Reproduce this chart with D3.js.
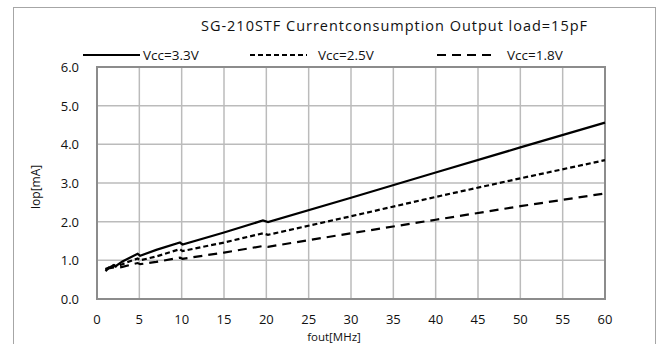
<!DOCTYPE html>
<html>
<head>
<meta charset="utf-8">
<script src="https://cdn.jsdelivr.net/npm/d3@7"></script>
<style>
  body { margin: 0; background: #fff; }
  text { font-family: "Open Sans", "Noto Sans", sans-serif; fill: #111; }
</style>
</head>
<body>
<div id="chart"></div>
<script>
var width = 660,
    height = 344;

var margin = {left: 97, right: 52, top: 67, bottom: 45};

// measured points (fout MHz, Iop mA), small steps where the divider changes
var vcc33 = [[1, 0.72], [1.5, 0.82], [2, 0.88], [2.2, 0.85], [3, 0.97], [4.8, 1.17], [5.1, 1.12], [7, 1.27], [9.8, 1.46], [10.1, 1.41], [15, 1.72], [19.6, 2.03], [20.2, 1.99], [30, 2.62], [40, 3.27], [50, 3.92], [60, 4.56]];
var vcc25 = [[1, 0.76], [1.5, 0.83], [2, 0.87], [2.2, 0.84], [3, 0.9], [4.8, 1.05], [5.1, 1.0], [7, 1.1], [9.8, 1.29], [10.1, 1.24], [15, 1.46], [19.6, 1.7], [20.2, 1.66], [30, 2.14], [40, 2.64], [50, 3.12], [60, 3.59]];
var vcc18 = [[1, 0.78], [1.5, 0.8], [2, 0.82], [2.2, 0.8], [3, 0.83], [4.8, 0.93], [5.1, 0.9], [7, 0.96], [9.8, 1.07], [10.1, 1.04], [15, 1.2], [19.6, 1.37], [20.2, 1.35], [30, 1.7], [40, 2.05], [50, 2.4], [60, 2.73]];

var seriesNames = ["Vcc=3.3V", "Vcc=2.5V", "Vcc=1.8V"];
var xTicks = [0, 5, 10, 15, 20, 25, 30, 35, 40, 45, 50, 55, 60];
var yTicks = [0, 1, 2, 3, 4, 5, 6];

var svg = d3.select("#chart").append("svg")
    .attr("width", width)
    .attr("height", height);

// outer frame
svg.append("rect")
    .attr("x", 13.5)
    .attr("y", 7.5)
    .attr("width", 642)
    .attr("height", 350)
    .attr("fill", "none")
    .attr("stroke", "#a6a6a6")
    .attr("stroke-width", 1);

var x = d3.scaleLinear()
    .domain([0, 60])
    .range([margin.left, width - margin.right - 3]);

var y = d3.scaleLinear()
    .domain([0, 6])
    .range([height - margin.bottom, margin.top]);

// grid
svg.selectAll(".vgrid")
    .data(xTicks)
    .enter().append("line")
    .attr("class", "vgrid")
    .attr("x1", function(d){return x(d)})
    .attr("x2", function(d){return x(d)})
    .attr("y1", y(0))
    .attr("y2", y(6))
    .attr("stroke", "#bbbbbb")
    .attr("stroke-width", 1.5);

svg.selectAll(".hgrid")
    .data(yTicks)
    .enter().append("line")
    .attr("class", "hgrid")
    .attr("x1", x(0))
    .attr("x2", x(60))
    .attr("y1", function(d){return y(d)})
    .attr("y2", function(d){return y(d)})
    .attr("stroke", "#bbbbbb")
    .attr("stroke-width", 1.5);

// plot border
svg.append("rect")
    .attr("x", x(0))
    .attr("y", y(6))
    .attr("width", x(60) - x(0))
    .attr("height", y(0) - y(6))
    .attr("fill", "none")
    .attr("stroke", "#8c8c8c")
    .attr("stroke-width", 2);

// tick labels
svg.selectAll(".xlab")
    .data(xTicks)
    .enter().append("text")
    .attr("class", "xlab")
    .attr("x", function(d){return x(d)})
    .attr("y", 324)
    .attr("text-anchor", "middle")
    .attr("font-size", 13)
    .text(function(d){return d});

svg.selectAll(".ylab")
    .data(yTicks)
    .enter().append("text")
    .attr("class", "ylab")
    .attr("x", 79)
    .attr("y", function(d){return y(d) + 5})
    .attr("text-anchor", "end")
    .attr("font-size", 13)
    .text(function(d){return d.toFixed(1)});

svg.append("text")
    .attr("x", 334)
    .attr("y", 341)
    .attr("text-anchor", "middle")
    .attr("font-size", 11.5)
    .text("fout[MHz]");

svg.append("text")
    .attr("transform", "translate(40,187) rotate(-90)")
    .attr("text-anchor", "middle")
    .attr("font-size", 12)
    .text("Iop[mA]");

svg.append("text")
    .attr("x", 394)
    .attr("y", 31)
    .attr("text-anchor", "middle")
    .attr("font-size", 14.5)
    .attr("textLength", 386)
    .attr("lengthAdjust", "spacing")
    .text("SG-210STF Currentconsumption Output load=15pF");

// series
var line = d3.line()
    .x(function(d){return x(d[0])})
    .y(function(d){return y(d[1])});

var dashes = ["none", "5,3", "9,6"];
var allData = [vcc33, vcc25, vcc18];

svg.selectAll(".series")
    .data(allData)
    .enter().append("path")
    .attr("class", "series")
    .attr("d", line)
    .attr("fill", "none")
    .attr("stroke", "#000")
    .attr("stroke-width", 2.2)
    .attr("stroke-dasharray", function(d, i){return dashes[i]});

// legend
var legX = [83, 250, 437],
    legW = [57, 57, 60],
    legTextX = [143, 318, 507];

seriesNames.forEach(function(name, i){
    svg.append("line")
        .attr("x1", legX[i])
        .attr("x2", legX[i] + legW[i])
        .attr("y1", 55)
        .attr("y2", 55)
        .attr("stroke", "#000")
        .attr("stroke-width", 2.2)
        .attr("stroke-dasharray", dashes[i]);
    svg.append("text")
        .attr("x", legTextX[i])
        .attr("y", 60)
        .attr("font-size", 13.5)
        .text(name);
});
</script>
</body>
</html>
